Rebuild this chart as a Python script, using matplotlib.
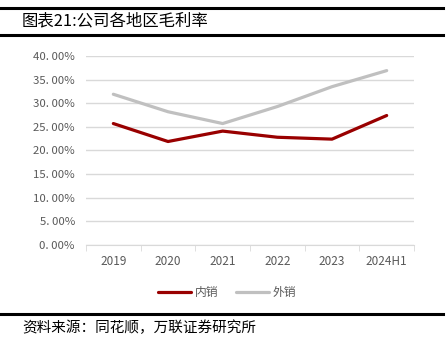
import matplotlib.pyplot as plt
import numpy as np

plt.rcParams['font.family'] = ['Noto Sans CJK SC', 'DejaVu Sans']

years = ['2019', '2020', '2021', '2022', '2023', '2024H1']
domestic = [25.7, 21.9, 24.1, 22.8, 22.4, 27.4]   # 内销
overseas = [31.9, 28.2, 25.7, 29.3, 33.5, 36.9]   # 外销
yticks = [0, 5, 10, 15, 20, 25, 30, 35, 40]

fig = plt.figure(figsize=(4.47, 3.52), dpi=100)
ax = fig.add_axes([0.1924, 0.304, 0.7338, 0.537])

x = np.arange(len(years))
ax.plot(x, domestic, color='#990000', lw=2.3, label='内销', solid_capstyle='round')
ax.plot(x, overseas, color='#c0c0c0', lw=2.3, label='外销', solid_capstyle='round')

ax.set_xlim(-0.5, len(years) - 0.5)
ax.set_ylim(0, 40)
ax.set_yticks(yticks)
ax.set_yticklabels(['%d. 00%%' % v for v in yticks], fontsize=8.2, color='#595959')
ax.grid(axis='y', color='#d9d9d9', lw=1)
ax.set_axisbelow(True)

# categories centred, tick marks on the boundaries
ax.set_xticks(x)
ax.set_xticklabels(years, fontsize=8.5, color='#595959')
ax.tick_params(axis='x', length=0, pad=7)
ax.set_xticks(np.arange(-0.5, len(years)), minor=True)
ax.tick_params(axis='x', which='minor', length=4, color='#d9d9d9')
ax.tick_params(axis='y', length=0, pad=8)

for s in ['top', 'right', 'left']:
    ax.spines[s].set_visible(False)
ax.spines['bottom'].set_color('#d9d9d9')

leg = ax.legend(loc='upper center', bbox_to_anchor=(0.43, -0.16), ncol=2, frameon=False,
                fontsize=8.5, handlelength=2.8, handletextpad=0.3, columnspacing=1.5)
for t in leg.get_texts():
    t.set_color('#595959')

# title bar and source note
fig.add_artist(plt.Line2D([0, 0.991], [1 - 7.5 / 352, 1 - 7.5 / 352], color='black', lw=2.2))
fig.add_artist(plt.Line2D([0, 0.991], [1 - 34.5 / 352, 1 - 34.5 / 352], color='black', lw=2.2))
fig.add_artist(plt.Line2D([0, 0.991], [1 - 314 / 352, 1 - 314 / 352], color='black', lw=2.2))
fig.text(22 / 447, 1 - 21 / 352, '图表21:公司各地区毛利率', fontsize=11.8, va='center', ha='left')
fig.text(22 / 447, 1 - 328 / 352, '资料来源：同花顺，万联证券研究所', fontsize=10.5, va='center',
         ha='left', style='italic')

fig.savefig('out.png', dpi=100)
